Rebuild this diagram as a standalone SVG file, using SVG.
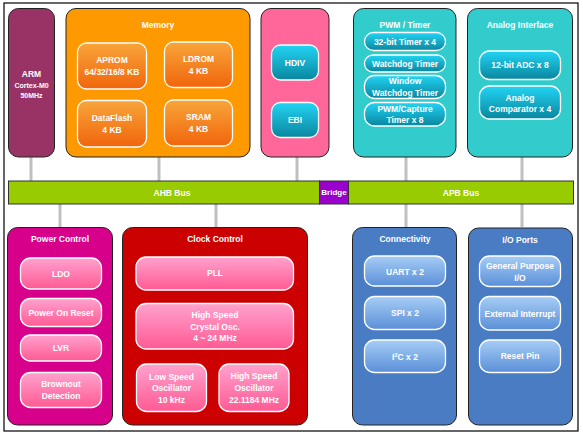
<svg xmlns="http://www.w3.org/2000/svg" width="583" height="440" viewBox="0 0 583 440">
<defs>
<linearGradient id="gOr" x1="0" y1="0" x2="0" y2="1"><stop offset="0" stop-color="#F8A53A"/><stop offset="1" stop-color="#F1650C"/></linearGradient>
<linearGradient id="gTe" x1="0" y1="0" x2="0" y2="1"><stop offset="0" stop-color="#22D4F4"/><stop offset="1" stop-color="#0A869F"/></linearGradient>
<linearGradient id="gPk" x1="0" y1="0" x2="0" y2="1"><stop offset="0" stop-color="#FFA2CE"/><stop offset="1" stop-color="#FF5A93"/></linearGradient>
<linearGradient id="gBl" x1="0" y1="0" x2="0" y2="1"><stop offset="0" stop-color="#A6CDF5"/><stop offset="1" stop-color="#5A8FD8"/></linearGradient>
</defs>
<style>
text{font-family:"Liberation Sans",Arial,sans-serif;font-weight:bold;font-size:8.5px;fill:#fff;text-anchor:middle}
.pan{stroke:#222;stroke-width:1}
.box{stroke:#fff;stroke-width:1.3}
.or{fill:url(#gOr)}.te{fill:url(#gTe)}.pk{fill:url(#gPk)}.bl{fill:url(#gBl)}
.con line{stroke:#C0C0C0;stroke-width:3}
.bus{fill:#99CC00;stroke:#333;stroke-width:1}
.sm{font-size:7px}
</style>
<rect x="0" y="0" width="583" height="440" fill="#fff"/>
<rect x="4" y="3" width="574" height="428" fill="none" stroke="#000" stroke-width="1.2"/>

<g id="connectors" class="con">
<line x1="31" y1="157" x2="31" y2="181"/>
<line x1="159" y1="157" x2="159" y2="181"/>
<line x1="297" y1="157" x2="297" y2="181"/>
<line x1="406" y1="157" x2="406" y2="181"/>
<line x1="522" y1="157" x2="522" y2="181"/>
<line x1="60" y1="204" x2="60" y2="227"/>
<line x1="216" y1="204" x2="216" y2="227"/>
<line x1="406" y1="204" x2="406" y2="227"/>
<line x1="522" y1="204" x2="522" y2="227"/>
</g>

<g id="arm">
<rect class="pan" x="8.5" y="8.5" width="46" height="148.5" rx="10" fill="#993366"/>
<text x="31.5" y="77">ARM</text>
<text class="sm" x="31.5" y="87.5">Cortex-M0</text>
<text class="sm" x="31.5" y="97.5">50MHz</text>
</g>

<g id="memory">
<rect class="pan" x="66" y="8.5" width="184" height="148.5" rx="10" fill="#FF9900"/>
<text x="158" y="28">Memory</text>
<rect class="box or" x="77.5" y="43" width="69" height="46" rx="9"/>
<text x="112" y="63">APROM</text>
<text x="112" y="75">64/32/16/8 KB</text>
<rect class="box or" x="164.5" y="42" width="68" height="45.5" rx="9"/>
<text x="198.5" y="62">LDROM</text>
<text x="198.5" y="74">4 KB</text>
<rect class="box or" x="77.5" y="100.5" width="69" height="46.5" rx="9"/>
<text x="112" y="120.5">DataFlash</text>
<text x="112" y="132.5">4 KB</text>
<rect class="box or" x="164.5" y="100" width="68" height="46" rx="9"/>
<text x="198.5" y="120">SRAM</text>
<text x="198.5" y="132">4 KB</text>
</g>

<g id="hdiv-ebi">
<rect class="pan" x="261" y="8.5" width="68" height="148.5" rx="10" fill="#FF6699"/>
<rect class="box te" x="271.5" y="45" width="47" height="35" rx="9"/>
<text x="295" y="65.5">HDIV</text>
<rect class="box te" x="271.5" y="102.5" width="47" height="35" rx="9"/>
<text x="295" y="123">EBI</text>
</g>

<g id="pwm-timer">
<rect class="pan" x="353.5" y="8.5" width="102.5" height="148.5" rx="10" fill="#33CCCC"/>
<text x="405" y="28">PWM / Timer</text>
<rect class="box te" x="364.5" y="32.5" width="81" height="18" rx="9"/>
<text x="405" y="44.5">32-bit Timer x 4</text>
<rect class="box te" x="364.5" y="55" width="81" height="17" rx="8.5"/>
<text x="405" y="66.5">Watchdog Timer</text>
<rect class="box te" x="364.5" y="75.5" width="81" height="23" rx="10"/>
<text x="405" y="84">Window</text>
<text x="405" y="96">Watchdog Timer</text>
<rect class="box te" x="364.5" y="102.5" width="81" height="23.5" rx="10"/>
<text x="405" y="111.5">PWM/Capture</text>
<text x="405" y="123">Timer x 8</text>
</g>

<g id="analog">
<rect class="pan" x="467.5" y="8.5" width="105" height="148.5" rx="10" fill="#33CCCC"/>
<text x="520" y="28">Analog Interface</text>
<rect class="box te" x="479.5" y="51" width="81" height="28.5" rx="10"/>
<text x="520" y="68">12-bit ADC x 8</text>
<rect class="box te" x="479.5" y="86" width="81" height="33" rx="10"/>
<text x="520" y="100.5">Analog</text>
<text x="520" y="112">Comparator x 4</text>
</g>

<g id="bus">
<rect class="bus" x="8.5" y="181" width="311" height="23"/>
<text x="172" y="195.5">AHB Bus</text>
<rect x="319.5" y="181" width="29" height="23" fill="#9900CC" stroke="#333" stroke-width="1"/>
<text x="334" y="195" style="font-size:8px">Bridge</text>
<rect class="bus" x="348.5" y="181" width="225" height="23"/>
<text x="461" y="195.5">APB Bus</text>
</g>

<g id="power">
<rect class="pan" x="7.5" y="227.5" width="105" height="197.5" rx="10" fill="#D6008A"/>
<text x="60" y="242">Power Control</text>
<rect class="box pk" x="20.5" y="258" width="81" height="31" rx="10"/>
<text x="61" y="277">LDO</text>
<rect class="box pk" x="20.5" y="298.5" width="81" height="28" rx="10"/>
<text x="61" y="315.5">Power On Reset</text>
<rect class="box pk" x="20.5" y="335" width="81" height="26" rx="10"/>
<text x="61" y="350.5">LVR</text>
<rect class="box pk" x="20.5" y="372.5" width="81" height="35" rx="10"/>
<text x="61" y="387">Brownout</text>
<text x="61" y="398.5">Detection</text>
</g>

<g id="clock">
<rect class="pan" x="122.5" y="227.5" width="185" height="197.5" rx="10" fill="#CC0000"/>
<text x="215" y="242">Clock Control</text>
<rect class="box pk" x="136" y="257" width="157.5" height="33" rx="10"/>
<text x="215" y="275.5">PLL</text>
<rect class="box pk" x="136" y="303.5" width="157.5" height="45.5" rx="10"/>
<text x="215" y="318">High Speed</text>
<text x="215" y="329.5">Crystal Osc.</text>
<text x="215" y="341">4 ~ 24 MHz</text>
<rect class="box pk" x="136.5" y="364" width="70" height="47.5" rx="10"/>
<text x="171.5" y="379.5">Low Speed</text>
<text x="171.5" y="391">Oscillator</text>
<text x="171.5" y="403">10 kHz</text>
<rect class="box pk" x="219" y="364" width="70" height="47.5" rx="10"/>
<text x="254" y="378.5">High Speed</text>
<text x="254" y="390.5">Oscillator</text>
<text x="254" y="403">22.1184 MHz</text>
</g>

<g id="connectivity">
<rect class="pan" x="352.5" y="227.5" width="104" height="197.5" rx="10" fill="#4A7CC4"/>
<text x="405" y="242">Connectivity</text>
<rect class="box bl" x="364.5" y="256" width="81" height="30" rx="10"/>
<text x="405" y="274.5">UART x 2</text>
<rect class="box bl" x="364.5" y="296.5" width="81" height="33" rx="10"/>
<text x="405" y="316">SPI x 2</text>
<rect class="box bl" x="364.5" y="340" width="81" height="32.5" rx="10"/>
<text x="405" y="359.5">I<tspan dy="-3" style="font-size:5.5px">2</tspan><tspan dy="3">C x 2</tspan></text>
</g>

<g id="io-ports">
<rect class="pan" x="468.5" y="228" width="104" height="197" rx="10" fill="#4A7CC4"/>
<text x="520" y="243">I/O Ports</text>
<rect class="box bl" x="479.5" y="256" width="81" height="30.5" rx="10"/>
<text x="520" y="269">General Purpose</text>
<text x="520" y="281">I/O</text>
<rect class="box bl" x="479.5" y="296.5" width="81" height="33.5" rx="10"/>
<text x="520" y="317">External Interrupt</text>
<rect class="box bl" x="479.5" y="340" width="81" height="32.5" rx="10"/>
<text x="520" y="359">Reset Pin</text>
</g>
</svg>
